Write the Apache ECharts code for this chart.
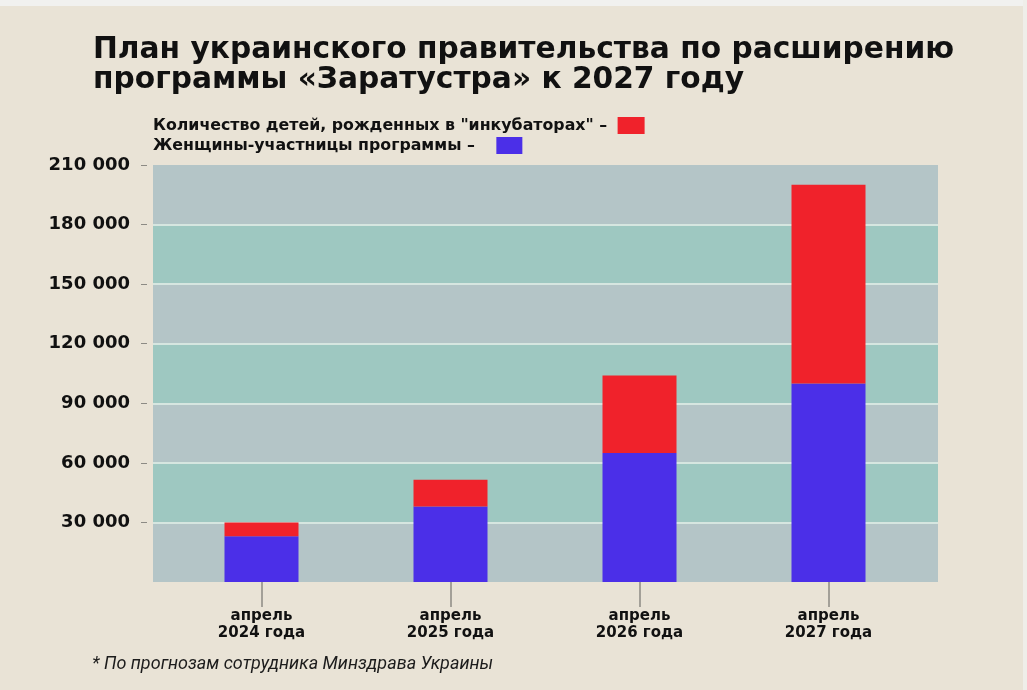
<!DOCTYPE html>
<html>
<head>
<meta charset="utf-8">
<script src="https://cdn.jsdelivr.net/npm/echarts@6/dist/echarts.min.js"></script>
<style>
html,body{margin:0;padding:0;background:#e9e3d6;}
#chart{width:1027px;height:690px;}
</style>
</head>
<body>
<div id="chart"></div>
<script>
const titleText = 'План украинского правительства по расширению\nпрограммы «Заратустра» к 2027 году';
const footnote = '* По прогнозам сотрудника Минздрава Украины';
const categories = ['апрель\n2024 года', 'апрель\n2025 года', 'апрель\n2026 года', 'апрель\n2027 года'];
const seriesNames = ['Количество детей, рожденных в "инкубаторах"', 'Женщины-участницы программы'];
const women = [23000, 38000, 65000, 100000];
const children = [7000, 13500, 39000, 100000];
const yTicks = [30000, 60000, 90000, 120000, 150000, 180000, 210000];

const chart = echarts.init(document.getElementById('chart'));
const boldFont = 'DejaVu Sans';
const yMin = 0, yMax = yTicks[yTicks.length - 1], yStep = yTicks[1] - yTicks[0];

const legendText = {fontFamily: boldFont, fontWeight: 'bold', fontSize: 15.8, color: '#111'};

chart.setOption({
  backgroundColor: '#e9e3d6',
  animation: false,
  title: {
    text: titleText,
    left: 88, top: 30,
    textStyle: {fontFamily: boldFont, fontWeight: 'bold', fontSize: 29.7, lineHeight: 30, color: '#111'}
  },
  graphic: [
    {type: 'rect', left: 0, top: 0, shape: {width: 1027, height: 6}, style: {fill: '#f1f1ef'}, silent: true},
    {type: 'rect', left: 1023, top: 0, shape: {width: 4, height: 690}, style: {fill: '#efeee9'}, silent: true},
    {type: 'text', left: 92, top: 655, style: {text: footnote, fontFamily: 'Roboto', fontStyle: 'italic', fontSize: 18, fill: '#1c1c1c'}}
  ],
  legend: [
    {left: 153, top: 117, padding: 0, align: 'right', icon: 'rect',
      itemWidth: 27, itemHeight: 17, data: [seriesNames[0]],
      formatter: n => n + ' – ', textStyle: legendText, selectedMode: false},
    {left: 153, top: 137, padding: 0, align: 'right', icon: 'rect',
      itemWidth: 26, itemHeight: 17, data: [seriesNames[1]],
      formatter: n => n + ' –   ', textStyle: legendText, selectedMode: false}
  ],
  grid: [
    {left: 153, right: 89, top: 165, bottom: 108},
    {left: 167, right: 104, top: 165, bottom: 108}
  ],
  xAxis: [
    {type: 'category', gridIndex: 0, data: categories, show: false},
    {type: 'category', gridIndex: 1, data: categories,
      axisLine: {show: false},
      axisTick: {show: true, alignWithLabel: true, length: 25, lineStyle: {color: '#8c8a84', width: 1.5}},
      axisLabel: {margin: 26, fontFamily: boldFont, fontWeight: 'bold', fontSize: 15, lineHeight: 17, color: '#111'}
    }
  ],
  yAxis: [
    {type: 'value', gridIndex: 0, min: yMin, max: yMax, interval: yStep,
      axisLine: {show: false}, axisTick: {show: false}, axisLabel: {show: false},
      splitLine: {show: true, showMinLine: false, showMaxLine: false, lineStyle: {color: '#d6e6e0', width: 2}},
      splitArea: {show: true, areaStyle: {color: ['#b4c5c7', '#9ec8c1']}}
    },
    {type: 'value', gridIndex: 1, min: yMin, max: yMax, interval: yStep, offset: 20,
      axisLine: {show: false},
      axisTick: {show: true, length: 6, customValues: yTicks, lineStyle: {color: '#8c8a84', width: 1}},
      axisLabel: {margin: 17, customValues: yTicks, fontFamily: boldFont, fontWeight: 'bold', fontSize: 18, color: '#111',
        formatter: v => String(v).replace(/\B(?=(\d{3})+(?!\d))/g, ' ')},
      splitLine: {show: false}, splitArea: {show: false}
    }
  ],
  series: [
    {name: seriesNames[1], type: 'bar', stack: 'total', xAxisIndex: 1, yAxisIndex: 1, barWidth: 74,
      data: women, itemStyle: {color: '#4b2fe8'}},
    {name: seriesNames[0], type: 'bar', stack: 'total', xAxisIndex: 1, yAxisIndex: 1, barWidth: 74,
      data: children, itemStyle: {color: '#f0222b'}}
  ]
});
</script>
</body>
</html>
